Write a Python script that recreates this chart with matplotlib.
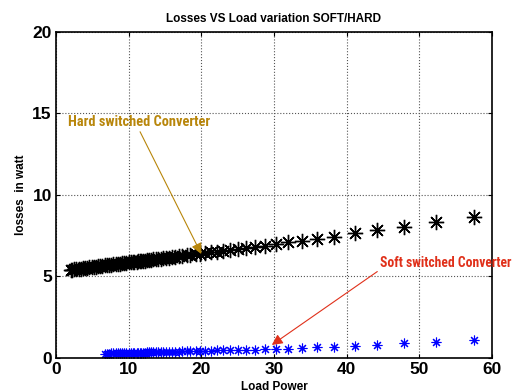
import matplotlib
matplotlib.use("Agg")
from matplotlib import pyplot as plt
from matplotlib import font_manager
from matplotlib.text import Text

# load power (W) and losses (W)
p_hard = [57.5, 52.3, 47.9, 44.2, 41.1, 38.3, 35.9, 33.8, 31.9, 30.3, 28.8, 27.4,
          26.1, 25.0, 24.0, 23.0, 22.1, 21.3, 20.5, 19.8, 19.2, 18.5, 18.0, 17.4,
          16.9, 16.4, 16.0, 15.5, 15.1, 14.7, 14.4, 14.0, 13.7, 13.4, 13.1, 12.8,
          12.5, 12.2, 12.0, 11.7, 11.5, 11.3, 11.1, 10.8, 10.6, 10.3, 10.0, 9.7,
          9.4, 9.1, 8.8, 8.5, 8.2, 7.9, 7.6, 7.3, 7.0, 6.7, 6.4, 6.1, 5.8, 5.5,
          5.2, 4.9, 4.6, 4.3, 4.0, 3.7, 3.4, 3.1, 2.8, 2.5, 2.2, 2.0]
loss_hard = [8.64, 8.33, 8.03, 7.82, 7.62, 7.41, 7.25, 7.15, 7.06, 6.95, 6.87, 6.80,
             6.72, 6.66, 6.60, 6.55, 6.50, 6.45, 6.41, 6.37, 6.34, 6.30, 6.27, 6.24,
             6.21, 6.18, 6.16, 6.13, 6.11, 6.09, 6.07, 6.05, 6.03, 6.02, 6.00, 5.98,
             5.97, 5.95, 5.94, 5.92, 5.91, 5.90, 5.89, 5.87, 5.86, 5.85, 5.83, 5.81,
             5.80, 5.78, 5.76, 5.75, 5.73, 5.71, 5.70, 5.68, 5.66, 5.65, 5.63, 5.61,
             5.60, 5.58, 5.56, 5.54, 5.53, 5.51, 5.49, 5.48, 5.46, 5.44, 5.43, 5.41,
             5.39, 5.38]

p_soft = [57.5, 52.3, 47.9, 44.2, 41.1, 38.3, 35.9, 33.8, 31.9, 30.3, 28.8, 27.4,
          26.1, 25.0, 24.0, 23.0, 22.1, 21.3, 20.5, 19.8, 19.2, 18.5, 18.0, 17.4,
          16.9, 16.4, 16.0, 15.5, 15.1, 14.7, 14.4, 14.0, 13.7, 13.4, 13.1, 12.8,
          12.5, 12.2, 12.0, 11.7, 11.5, 11.3, 11.1, 10.8, 10.6, 10.3, 10.0, 9.7,
          9.4, 9.1, 8.8, 8.5, 8.2, 7.9, 7.6, 7.3, 7.0, 6.7]
loss_soft = [1.07, 0.93, 0.87, 0.77, 0.72, 0.64, 0.62, 0.57, 0.53, 0.52, 0.50, 0.48,
             0.47, 0.46, 0.45, 0.44, 0.43, 0.42, 0.41, 0.40, 0.39, 0.38, 0.38, 0.37,
             0.36, 0.36, 0.35, 0.35, 0.34, 0.34, 0.33, 0.33, 0.32, 0.32, 0.31, 0.31,
             0.31, 0.30, 0.30, 0.30, 0.29, 0.29, 0.29, 0.28, 0.28, 0.28, 0.27, 0.27,
             0.27, 0.26, 0.26, 0.26, 0.25, 0.25, 0.25, 0.24, 0.24, 0.24]

plt.rcParams['font.family'] = ['Liberation Sans', 'DejaVu Sans']

# narrowest font we can find for the annotation labels
installed = {(f.name, f.stretch) for f in font_manager.fontManager.ttflist}
names = {f.name for f in font_manager.fontManager.ttflist}
narrow, stretch = 'Liberation Sans', 'normal'
for cand in ['Roboto Condensed', 'Open Sans Condensed', 'Liberation Sans Narrow']:
    if cand in names:
        narrow = cand
        break
else:
    if ('DejaVu Sans', 'condensed') in installed or ('DejaVu Sans', 'semi-condensed') in installed:
        narrow, stretch = 'DejaVu Sans', 'condensed'

fig = plt.figure(figsize=(5.15, 3.92), dpi=100)
ax = fig.add_axes([0.1087, 0.088, 0.8466, 0.8316])

ax.plot(p_hard, loss_hard, linestyle='none', marker=(8, 2, 0), markersize=11,
        markeredgecolor='black', markeredgewidth=1.0, color='black')
ax.plot(p_soft, loss_soft, linestyle='none', marker=(8, 2, 0), markersize=7,
        markeredgecolor='blue', markeredgewidth=0.8, color='blue')

ax.set_xlim(0, 60)
ax.set_ylim(0, 20)
ax.set_xticks([0, 10, 20, 30, 40, 50, 60])
ax.set_yticks([0, 5, 10, 15, 20])
ax.grid(True, color='#555555', linestyle=':', linewidth=0.8)
ax.tick_params(direction='in', length=3, top=True, right=True, labelsize=12.5, pad=3)
for lab in ax.get_xticklabels() + ax.get_yticklabels():
    lab.set_fontweight('bold')
for sp in ax.spines.values():
    sp.set_linewidth(1.2)

ax.set_title('Losses VS Load variation SOFT/HARD', fontsize=8.5, fontweight='bold', pad=7)
ax.set_xlabel('Load Power', fontsize=8.5, fontweight='bold', labelpad=3)
ax.set_ylabel('losses  in watt', fontsize=8.5, fontweight='bold', labelpad=4)

hard = ax.annotate('Hard switched Converter', xy=(20, 6.35), xytext=(1.6, 14.45),
                   fontsize=11, fontweight='bold', family=narrow, fontstretch=stretch,
                   color='#b8860b', va='center', ha='left',
                   arrowprops=dict(arrowstyle='-|>', color='#b8860b', lw=0.8,
                                   shrinkA=0, shrinkB=0, relpos=(0.5, 0.0),
                                   mutation_scale=16))
soft = ax.annotate('Soft switched Converter', xy=(29.7, 0.77), xytext=(44.6, 5.82),
                   fontsize=11, fontweight='bold', family=narrow, fontstretch=stretch,
                   color='#e0301a', va='center', ha='left', annotation_clip=False,
                   arrowprops=dict(arrowstyle='-|>', color='#e0301a', lw=0.8,
                                   shrinkA=0, shrinkB=0, relpos=(0.0, 0.0),
                                   mutation_scale=16))

# fit label widths (text only, not the arrow) to the widths seen in the picture (px)
fig.canvas.draw()
r = fig.canvas.get_renderer()
for t, w in [(hard, 142), (soft, 131)]:
    cur = Text.get_window_extent(t, r).width
    t.set_fontsize(t.get_fontsize() * w / cur)

fig.savefig('out.png', dpi=100)
